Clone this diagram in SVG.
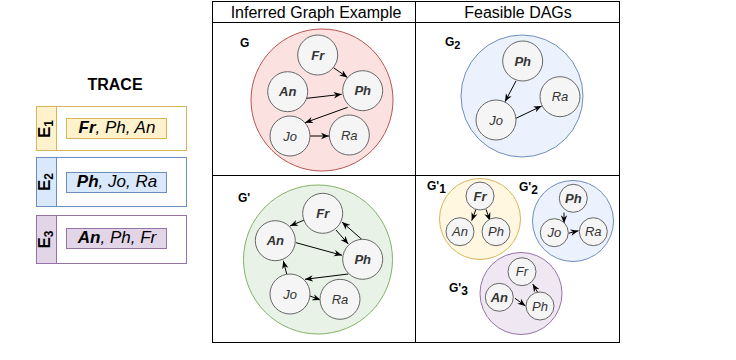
<svg xmlns="http://www.w3.org/2000/svg" width="736" height="360" viewBox="0 0 736 360">
<defs>
<marker id="arr" viewBox="0 0 10 10" markerWidth="8" markerHeight="8" refX="10" refY="5" orient="auto" markerUnits="userSpaceOnUse">
<path d="M0,1 L10,5 L0,9 L3,5 z" fill="#000"/>
</marker>
</defs>
<style>
text{font-family:"Liberation Sans",Arial,sans-serif;}
.hdr{font-size:16px;fill:#000;text-anchor:middle;}
.nd circle{fill:#f5f5f5;stroke:#666666;stroke-width:1;}
.nd text{font-size:13px;font-style:italic;fill:#333333;text-anchor:middle;}
.b{font-weight:bold;}
.lbl{font-size:12px;font-weight:bold;fill:#000;}
.edges line{stroke:#000;stroke-width:1;marker-end:url(#arr);}
.tr{font-size:17px;font-style:italic;fill:#000;text-anchor:middle;}
.strip{font-size:17px;font-weight:bold;fill:#000;text-anchor:middle;}
</style>
<rect width="736" height="360" fill="#fff"/>

<!-- TRACE -->
<g id="trace">
<text x="115" y="90" style="font-size:16px;font-weight:bold;text-anchor:middle">TRACE</text>
</g>
<g id="E1">
<rect x="36.5" y="106.5" width="150" height="44" fill="#fff" stroke="#d6b656"/>
<rect x="36.5" y="106.5" width="20" height="44" fill="#fff2cc" stroke="#d6b656"/>
<text class="strip" transform="translate(50,129) rotate(-90)">E<tspan font-size="12" dy="3">1</tspan></text>
<rect x="66.5" y="118.5" width="100" height="20" fill="#fff2cc" stroke="#d6b656"/>
<text class="tr" x="117" y="133"><tspan font-weight="bold">Fr</tspan>, Ph, An</text>
</g>
<g id="E2">
<rect x="36.5" y="157.5" width="150" height="49" fill="#fff" stroke="#6c8ebf"/>
<rect x="36.5" y="157.5" width="20" height="49" fill="#dae8fc" stroke="#6c8ebf"/>
<text class="strip" transform="translate(50,182) rotate(-90)">E<tspan font-size="12" dy="3">2</tspan></text>
<rect x="66.5" y="172.5" width="100" height="20" fill="#dae8fc" stroke="#6c8ebf"/>
<text class="tr" x="117" y="187"><tspan font-weight="bold">Ph</tspan>, Jo, Ra</text>
</g>
<g id="E3">
<rect x="36.5" y="215.5" width="150" height="48" fill="#fff" stroke="#9673a6"/>
<rect x="36.5" y="215.5" width="20" height="48" fill="#e1d5e7" stroke="#9673a6"/>
<text class="strip" transform="translate(50,239.5) rotate(-90)">E<tspan font-size="12" dy="3">3</tspan></text>
<rect x="66.5" y="228.5" width="100" height="20" fill="#e1d5e7" stroke="#9673a6"/>
<text class="tr" x="117" y="243"><tspan font-weight="bold">An</tspan>, Ph, Fr</text>
</g>

<!-- table -->
<g id="table" fill="none" stroke="#000" stroke-width="1">
<rect x="212.5" y="1.5" width="407" height="341"/>
<line x1="212.5" y1="22.5" x2="619.5" y2="22.5"/>
<line x1="415.5" y1="1.5" x2="415.5" y2="342.5"/>
<line x1="212.5" y1="175.5" x2="619.5" y2="175.5"/>
</g>
<text class="hdr" x="316" y="18">Inferred Graph Example</text>
<text class="hdr" x="518" y="18">Feasible DAGs</text>

<!-- clusters -->
<g id="clusterG">
<circle cx="322" cy="100" r="71" fill="#f8cecc" fill-opacity="0.6" stroke="#b85450"/>
<text class="lbl" x="240" y="47">G</text>
</g>
<g id="clusterG2">
<circle cx="522" cy="96" r="61" fill="#dae8fc" fill-opacity="0.55" stroke="#6c8ebf"/>
<text class="lbl" x="445" y="46">G<tspan font-size="11" dy="3">2</tspan></text>
</g>
<g id="clusterGp">
<circle cx="318" cy="259.5" r="74.5" fill="#d5e8d4" fill-opacity="0.55" stroke="#82b366"/>
<text class="lbl" x="238" y="202">G'</text>
</g>
<g id="clusterGp1">
<circle cx="480" cy="219" r="40.5" fill="#fff2cc" fill-opacity="0.6" stroke="#d6b656"/>
<text class="lbl" x="427" y="189.5">G'<tspan font-size="12" dy="3">1</tspan></text>
</g>
<g id="clusterGp2">
<circle cx="573" cy="221" r="40.5" fill="#dae8fc" fill-opacity="0.55" stroke="#6c8ebf"/>
<text class="lbl" x="519" y="191">G'<tspan font-size="12" dy="3">2</tspan></text>
</g>
<g id="clusterGp3">
<circle cx="521" cy="293.5" r="41" fill="#e1d5e7" fill-opacity="0.55" stroke="#9673a6"/>
<text class="lbl" x="449" y="292">G'<tspan font-size="12" dy="3">3</tspan></text>
</g>

<!-- connectors -->
<g id="connectors" class="edges">
<!-- G -->
<line x1="333.4" y1="67.6" x2="347.5" y2="77.5"/>
<line x1="306.7" y1="98.3" x2="341.7" y2="94.3"/>
<line x1="347.7" y1="107.3" x2="305" y2="122.7"/>
<line x1="310" y1="136" x2="329" y2="136"/>
<!-- G2 -->
<line x1="516" y1="81" x2="505" y2="101.7"/>
<line x1="516" y1="118.3" x2="541.7" y2="106"/>
<!-- G' -->
<line x1="304.3" y1="220" x2="290" y2="226"/>
<line x1="336" y1="230" x2="348.3" y2="244"/>
<line x1="361.7" y1="239.3" x2="342" y2="222"/>
<line x1="296" y1="242.7" x2="342" y2="255.3"/>
<line x1="348.3" y1="274" x2="305" y2="279.3"/>
<line x1="286.7" y1="274" x2="283.3" y2="260.7"/>
<line x1="310" y1="296" x2="320.5" y2="300"/>
<!-- G'1 -->
<line x1="476" y1="209.3" x2="471.7" y2="220.7"/>
<line x1="486" y1="209.3" x2="490" y2="220.7"/>
<!-- G'2 -->
<line x1="564" y1="212.7" x2="564" y2="223.3"/>
<line x1="568.3" y1="233.3" x2="578.5" y2="230.7"/>
<!-- G'3 -->
<line x1="515" y1="298.3" x2="525.5" y2="306"/>
<line x1="538.3" y1="293.3" x2="532.7" y2="284"/>
</g>

<!-- nodes G -->
<g id="G_Fr" class="nd"><circle cx="317.7" cy="55" r="20"/><text class="b" x="317.7" y="59.6">Fr</text></g>
<g id="G_An" class="nd"><circle cx="287.7" cy="91.7" r="20"/><text class="b" x="287.7" y="96.3">An</text></g>
<g id="G_Ph" class="nd"><circle cx="362.7" cy="90.7" r="20"/><text class="b" x="362.7" y="95.3">Ph</text></g>
<g id="G_Jo" class="nd"><circle cx="290" cy="136" r="20"/><text x="290" y="140.6">Jo</text></g>
<g id="G_Ra" class="nd"><circle cx="349.3" cy="135" r="20"/><text x="349.3" y="139.6">Ra</text></g>

<!-- nodes G2 -->
<g id="G2_Ph" class="nd"><circle cx="522.7" cy="61" r="20"/><text class="b" x="522.7" y="65.6">Ph</text></g>
<g id="G2_Ra" class="nd"><circle cx="560" cy="96.7" r="20"/><text x="560" y="101.3">Ra</text></g>
<g id="G2_Jo" class="nd"><circle cx="496" cy="120" r="20"/><text x="496" y="124.6">Jo</text></g>

<!-- nodes G' -->
<g id="Gp_Fr" class="nd"><circle cx="322.7" cy="213.3" r="20"/><text class="b" x="322.7" y="217.9">Fr</text></g>
<g id="Gp_An" class="nd"><circle cx="275.3" cy="240.7" r="20"/><text class="b" x="275.3" y="245.3">An</text></g>
<g id="Gp_Ph" class="nd"><circle cx="362.7" cy="259.3" r="20"/><text class="b" x="362.7" y="263.9">Ph</text></g>
<g id="Gp_Jo" class="nd"><circle cx="290" cy="294" r="20"/><text x="290" y="298.6">Jo</text></g>
<g id="Gp_Ra" class="nd"><circle cx="340" cy="299.3" r="20"/><text x="340" y="303.9">Ra</text></g>

<!-- nodes G'1 -->
<g id="Gp1_Fr" class="nd"><circle cx="480" cy="196" r="14"/><text class="b" x="480" y="200.6">Fr</text></g>
<g id="Gp1_An" class="nd"><circle cx="460" cy="231.7" r="14"/><text x="460" y="236.3">An</text></g>
<g id="Gp1_Ph" class="nd"><circle cx="496" cy="231.7" r="14"/><text x="496" y="236.3">Ph</text></g>

<!-- nodes G'2 -->
<g id="Gp2_Ph" class="nd"><circle cx="573.3" cy="198.3" r="14"/><text class="b" x="573.3" y="202.9">Ph</text></g>
<g id="Gp2_Jo" class="nd"><circle cx="554.3" cy="232.7" r="14"/><text x="554.3" y="237.3">Jo</text></g>
<g id="Gp2_Ra" class="nd"><circle cx="593.3" cy="231.7" r="14"/><text x="593.3" y="236.3">Ra</text></g>

<!-- nodes G'3 -->
<g id="Gp3_Fr" class="nd"><circle cx="522" cy="271.7" r="14"/><text x="522" y="276.3">Fr</text></g>
<g id="Gp3_An" class="nd"><circle cx="499.3" cy="297.3" r="14"/><text class="b" x="499.3" y="301.9">An</text></g>
<g id="Gp3_Ph" class="nd"><circle cx="540" cy="306" r="14"/><text x="540" y="310.6">Ph</text></g>
</svg>
